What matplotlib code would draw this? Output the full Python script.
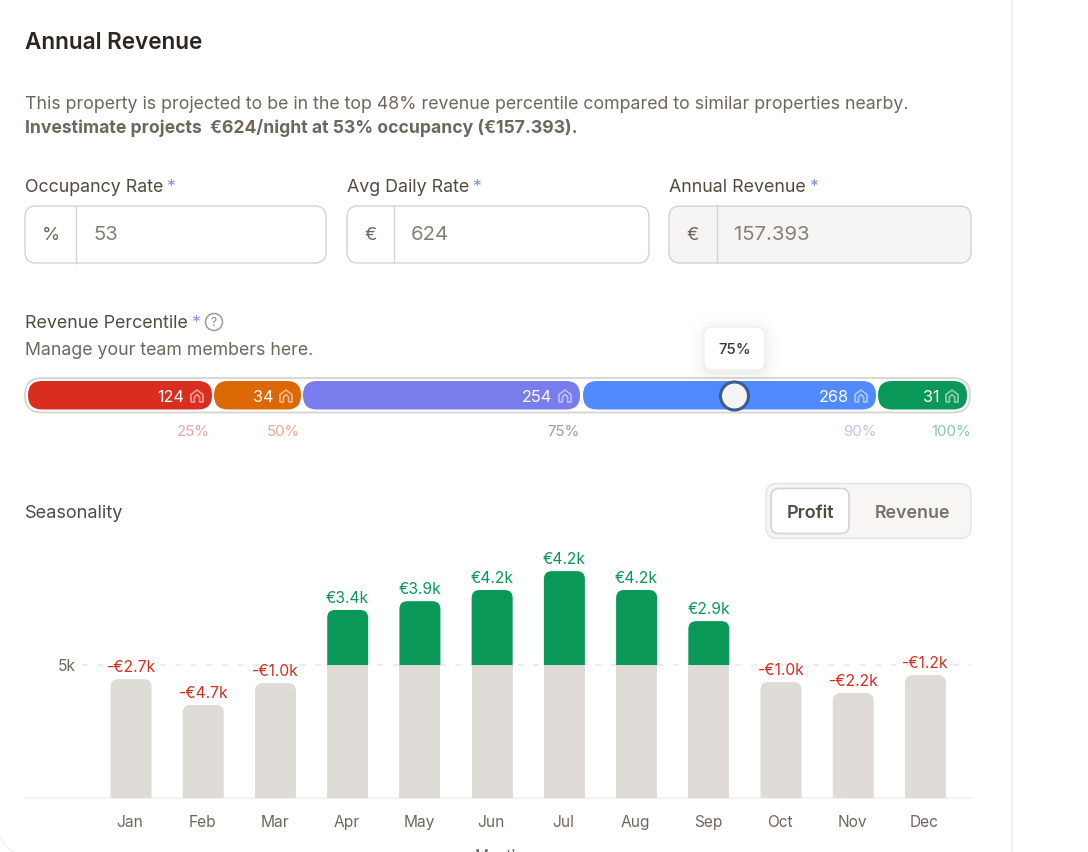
import matplotlib
matplotlib.use('Agg')
import matplotlib.pyplot as plt
from matplotlib.patches import FancyBboxPatch, Circle, PathPatch, Rectangle
from matplotlib.path import Path
from matplotlib.transforms import ScaledTranslation

plt.rcParams['font.family'] = ['Inter', 'DejaVu Sans']

months = ['Jan', 'Feb', 'Mar', 'Apr', 'May', 'Jun', 'Jul', 'Aug', 'Sep', 'Oct', 'Nov', 'Dec']
# grey part of each bar and the full height, in thousands
base_vals = [4.47, 3.5, 4.32, 5, 5, 5, 5, 5, 5, 4.36, 3.95, 4.62]
top_vals = [4.47, 3.5, 4.32, 7.07, 7.4, 7.82, 8.53, 7.82, 6.65, 4.36, 3.95, 4.62]
profit_labels = ['-€2.7k', '-€4.7k', '-€1.0k', '€3.4k', '€3.9k', '€4.2k', '€4.2k', '€4.2k', '€2.9k',
                 '-€1.0k', '-€2.2k', '-€1.2k']

seg_counts = [124, 34, 254, 268, 31]
seg_pcts = ['25%', '50%', '75%', '90%', '100%']
seg_colors = ['#d92d20', '#dc6803', '#787cec', '#4f8aff', '#099858']
pct_colors = ['#eca79f', '#eca98f', '#9c98b4', '#b9c8e4', '#87c9aa']
seg_left = [28, 214, 303, 583, 878]
seg_right = [212, 301, 580, 876, 967]
pct_right = [210, 300, 579, 876, 971]

input_labels = ['Occupancy Rate', 'Avg Daily Rate', 'Annual Revenue']
input_units = ['%', '€', '€']
input_values = ['53', '624', '157.393']

DARK = '#54493f'
MID = '#6f665c'
EDGE = '#d6d2cd'
RED = '#d92d20'
GREEN = '#099858'

W, H = 1088, 852
fig = plt.figure(figsize=(W / 100, H / 100), dpi=100, facecolor='white')

# page layer, in pixels
ui = fig.add_axes([0, 0, 1, 1])
ui.set_xlim(0, W)
ui.set_ylim(H, 0)
ui.axis('off')


def px(s):
    return s * 0.72


def label(x, y, s, size, color=DARK, weight='normal', ha='left'):
    # y is the middle of the digits, the baseline sits below it
    return ui.text(x, y + size * 0.36, s, fontsize=px(size), color=color, fontweight=weight, ha=ha, va='baseline')


def star(t, y):
    fig.canvas.draw()
    bb = t.get_window_extent().transformed(ui.transData.inverted())
    label(bb.x1 + 3, y, '*', 17.8, '#8a8ff0')


def box(x0, y0, x1, y1, r, fc='white', ec=EDGE, lw=1.0, z=2, alpha=None):
    p = FancyBboxPatch((x0, y0), x1 - x0, y1 - y0, boxstyle=f'round,pad=0,rounding_size={r}',
                       fc=fc, ec=ec, lw=lw, zorder=z, alpha=alpha)
    ui.add_patch(p)
    return p


def house(cx, cy, color):
    verts = [(cx - 6, cy + 6), (cx - 6, cy - 1.5), (cx, cy - 6), (cx + 6, cy - 1.5), (cx + 6, cy + 6),
             (cx + 2.6, cy + 6), (cx + 2.6, cy + 1), (cx, cy - 1.5), (cx - 2.6, cy + 1), (cx - 2.6, cy + 6),
             (cx - 6, cy + 6)]
    ui.add_patch(PathPatch(Path(verts), fc='none', ec=color, lw=1.2, zorder=6, joinstyle='round'))


label(25, 41, 'Annual Revenue', 22.5, '#2b2620', 'semibold')
label(25, 103, 'This property is projected to be in the top 48% revenue percentile compared to similar properties nearby.', 17.72, MID)
label(25, 127, 'Investimate projects  €624/night at 53% occupancy (€157.393).', 17.6, MID, 'bold')

# three inputs
input_x = [(25, 326, 76), (347, 649, 394), (669, 971, 717)]
for i, (x0, x1, div) in enumerate(input_x):
    t = label(x0, 186, input_labels[i], 17.8)
    star(t, 186)
    box(x0, 206, x1, 263, 11, fc='#f6f5f3' if i == 2 else 'white')
    ui.plot([div, div], [206, 263], color=EDGE, lw=1.0, zorder=3)
    label((x0 + div) / 2, 233, input_units[i], 18.5, MID, ha='center')
    label(div + 17, 233, input_values[i], 20.3, '#877f74')

# percentile bar
t = label(25, 322, 'Revenue Percentile', 17.8)
star(t, 322)
ui.add_patch(Circle((214, 322), 8.5, fc='white', ec='#a09a91', lw=1.1))
ui.text(214, 322.5, '?', fontsize=px(12), color='#8d867c', ha='center', va='center')
label(25, 349, 'Manage your team members here.', 17.72, MID)

box(25, 378, 970, 412.5, 17, ec='#d8d4cf', lw=1.3)
for i, n in enumerate(seg_counts):
    box(seg_left[i], 381, seg_right[i], 409.5, 14, fc=seg_colors[i], ec='none', z=3)
    house(seg_right[i] - 15, 396, '#ffffff88')
    label(seg_right[i] - 27.5, 396, str(n), 16.3, 'white', ha='right').set_zorder(6)
    label(pct_right[i], 431, seg_pcts[i], 15, pct_colors[i], ha='right')

# tooltip and thumb
for grow, a in [(14, 0.015), (9, 0.025), (5, 0.03), (2, 0.04)]:
    box(704 - grow, 327 - grow + 3, 765 + grow, 370 + grow + 3, 10 + grow, fc='#8a8378', ec='none', z=4, alpha=a)
box(704, 327, 765, 370, 9, ec='#f1f0ee', lw=1, z=5)
t = label(734.5, 349, '75%', 15, '#3c362f', 'medium', ha='center')
t.set_zorder(6)
ui.add_patch(Circle((734.5, 396), 14, fc='#f4f4f2', ec='#3b5b93', lw=2.2, zorder=7))

# seasonality header
label(25, 511.5, 'Seasonality', 18.2)
box(766, 483.5, 971, 538.5, 11, fc='#f7f6f5', ec='#e6e4e1')
box(771, 488.5, 849, 533.5, 8, fc='white', ec=EDGE, lw=1.2, z=3)
label(810, 511.5, 'Profit', 18, DARK, 'semibold', ha='center').set_zorder(5)
label(912, 511.5, 'Revenue', 17.8, '#797066', 'semibold', ha='center')

# side rule and the card corner at the bottom left
ui.plot([1011.5, 1011.5], [0, H], color='#f0efed', lw=1.2)
ui.add_patch(PathPatch(Path([(0, 836), (3, 846), (14, 852)], [Path.MOVETO, Path.CURVE3, Path.CURVE3]),
                       fc='none', ec='#f4f3f1', lw=1))

# chart layer: baseline at y=798, 5k at y=665
ax = fig.add_axes([25 / W, 1 - 798 / H, 946 / W, 258 / H])
ax.patch.set_alpha(0)
ax.set_xlim(-1.468, 11.63)
ax.set_ylim(0, 9.7)
for s in ['top', 'left', 'right']:
    ax.spines[s].set_visible(False)
ax.spines['bottom'].set_color('#f2f1ef')
ax.spines['bottom'].set_linewidth(1.2)

ax.hlines(5, 0.06, 1, transform=ax.get_yaxis_transform(), color='#eeecea', lw=1.4,
          linestyles=(0, (3, 5)), zorder=1)

BAR_W = 41 / 72.23
aspect = (9.7 / 258) / (13.098 / 946)
rad = 8 * 13.098 / 946


def round_bar(x, y0, y1, color, z, clip_from=None):
    p = FancyBboxPatch((x - BAR_W / 2, y0), BAR_W, y1 - y0,
                       boxstyle=f'round,pad=0,rounding_size={rad}', mutation_aspect=aspect,
                       fc=color, ec='none', zorder=z)
    ax.add_patch(p)
    if clip_from is not None:
        # only the round top should show
        p.set_clip_path(Rectangle((x - BAR_W, clip_from), 2 * BAR_W, 10, transform=ax.transData))


for i, m in enumerate(months):
    if top_vals[i] > base_vals[i]:
        round_bar(i, base_vals[i] - 1, top_vals[i], GREEN, 2, clip_from=base_vals[i])
        ax.bar(i, base_vals[i], BAR_W, color='#dfdcd8', zorder=3)
    else:
        round_bar(i, -1, base_vals[i], '#dfdcd8', 3)
    col = RED if profit_labels[i].startswith('-') else GREEN
    ax.annotate(profit_labels[i], (i, top_vals[i]), xytext=(0, px(11.5)), textcoords='offset points',
                ha='center', va='center', fontsize=px(15.6), color=col, zorder=5, annotation_clip=False)

ax.set_xticks(range(len(months)), months)
ax.set_yticks([5], ['5k'])
ax.tick_params(axis='x', length=0, pad=px(17), labelsize=px(15.5), labelcolor=MID)
ax.tick_params(axis='y', length=0, pad=-px(50.5), labelsize=px(15.5), labelcolor=MID)
shift = ScaledTranslation(-1 / 100, 0, fig.dpi_scale_trans)
for lab in ax.get_xticklabels():
    lab.set_transform(lab.get_transform() + shift)
ax.set_xlabel('Month', fontsize=px(15.5), color=MID, labelpad=px(19))

plt.savefig('out.png', dpi=100)
